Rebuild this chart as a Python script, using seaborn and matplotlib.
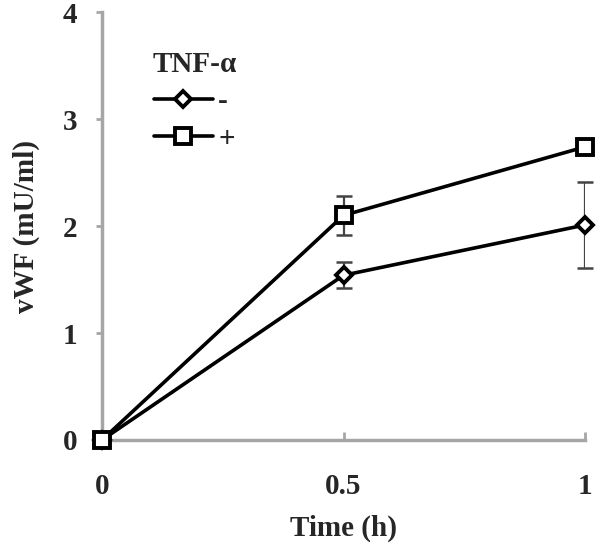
import matplotlib
matplotlib.use("Agg")
import matplotlib.pyplot as plt
import seaborn as sns
import pandas as pd

time_h = [0, 0.5, 1]
vwf_minus = [0.0, 1.54, 2.01]
err_minus = [0.0, 0.12, 0.40]
vwf_plus = [0.0, 2.10, 2.74]
err_plus = [0.0, 0.18, 0.02]
groups = ["-", "+"]

sns.set_theme(style="white")
plt.rcParams["font.family"] = ["Liberation Serif", "DejaVu Serif"]
plt.rcParams["font.weight"] = "bold"

df = pd.DataFrame({
    "Time (h)": time_h * 2,
    "vWF (mU/ml)": vwf_minus + vwf_plus,
    "TNF-α": [groups[0]] * 3 + [groups[1]] * 3,
})

fig = plt.figure(figsize=(6, 5.5), dpi=100)
ax = fig.add_axes([0.17, 0.2, 0.805, 0.778])

gray = "#a6a6a6"
for vals, errs in [(vwf_minus, err_minus), (vwf_plus, err_plus)]:
    ax.errorbar(time_h, vals, yerr=errs, fmt="none", ecolor="#444444",
                elinewidth=1.6, capsize=6, capthick=1.8, zorder=2)

sns.lineplot(data=df, x="Time (h)", y="vWF (mU/ml)", style="TNF-α",
             style_order=groups, markers={"-": "D", "+": "s"}, dashes=False,
             color="black", linewidth=2.6, markersize=11,
             markerfacecolor="white", markeredgecolor="black",
             markeredgewidth=2.8, ax=ax, zorder=3)
for line in ax.lines:
    if line.get_marker() == "D":
        line.set_markersize(8.5)

ax.set_xlim(0, 1)
ax.set_ylim(0, 4)
ax.set_xticks([0, 0.5, 1])
ax.set_xticklabels(["0", "0.5", "1"])
ax.set_yticks([0, 1, 2, 3, 4])
for line in ax.lines:
    line.set_clip_on(False)

for s in ["top", "right"]:
    ax.spines[s].set_visible(False)
for s in ["left", "bottom"]:
    ax.spines[s].set_color(gray)
    ax.spines[s].set_linewidth(2.5)

ax.tick_params(axis="y", direction="out", length=4, width=2, color=gray,
               labelsize=21, pad=14, left=True)
ax.tick_params(axis="x", direction="in", length=6, width=2, color=gray,
               labelsize=21, pad=24, bottom=True)
for lab in ax.get_xticklabels() + ax.get_yticklabels():
    lab.set_fontweight("bold")

ax.set_xlabel("Time (h)", fontsize=21, fontweight="bold", labelpad=10)
ax.set_ylabel("vWF (mU/ml)", fontsize=21, fontweight="bold", labelpad=16)

leg = ax.legend(title="TNF-α", loc="upper left", bbox_to_anchor=(0.05, 0.97),
                frameon=False, fontsize=21, title_fontsize=21,
                handlelength=2.0, labelspacing=0.35, handletextpad=0.2)
leg.get_title().set_fontweight("bold")
for t in leg.get_texts():
    t.set_fontweight("bold")
for h in leg.legend_handles:
    if h.get_marker() == "D":
        h.set_markersize(8.5)

fig.savefig("out.png", dpi=100)
